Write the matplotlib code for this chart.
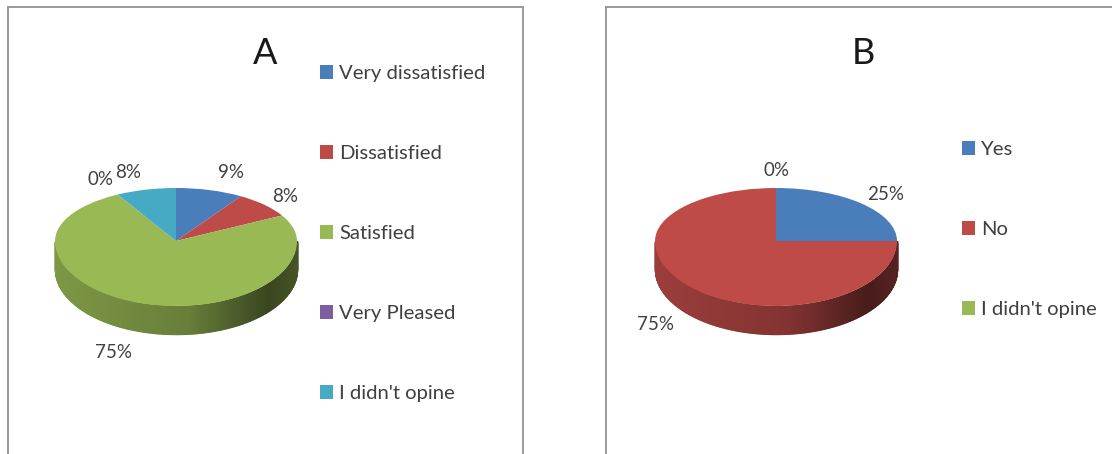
"""Two pseudo-3D satisfaction pies, drawn with ax.pie plus a shaded side wall."""
import matplotlib

matplotlib.use("Agg")
import matplotlib.pyplot as plt
import numpy as np
from matplotlib.patches import Patch

W, H = 1112, 454
plt.rcParams["font.family"] = ["Lato", "DejaVu Sans"]

labels_a = ["Very dissatisfied", "Dissatisfied", "Satisfied", "Very Pleased", "I didn't opine"]
values_a = [9, 8, 75, 0, 8]
colors_a = ["#4a7ebb", "#be4b48", "#98b954", "#7d5fa0", "#46aac5"]

labels_b = ["Yes", "No", "I didn't opine"]
values_b = [25, 75, 0]
colors_b = ["#4a7ebb", "#be4b48", "#98b954"]

# side wall brightness from left rim to right rim
SHADE_X = [-1, -0.5, 0.1, 0.75, 1]
SHADE_K = [0.82, 0.76, 0.68, 0.38, 0.46]
RX, RY, BACK, DEPTH = 121, 65, 53 / 65, 28  # pixels; the far half looks flatter


def side_wall(ax, values, colors):
    """Strips along the front rim, coloured after the slice they belong to."""
    edges = np.cumsum([0] + list(values)) / sum(values) * 2 * np.pi
    d = DEPTH / RY
    for a0, a1, color in zip(edges[:-1], edges[1:], colors):
        a0, a1 = max(a0, np.pi / 2), min(a1, 3 * np.pi / 2)
        if a1 <= a0:
            continue
        ts = np.linspace(a0, a1, int((a1 - a0) * 70) + 2)
        base = np.array(matplotlib.colors.to_rgb(color))
        for t0, t1 in zip(ts[:-1], ts[1:]):
            xs = np.sin([t0, t1])
            ys = np.cos([t0, t1])
            k = np.interp(xs.mean(), SHADE_X, SHADE_K)
            ax.fill_between(xs, ys, ys - d, color=base * k, lw=1.0, zorder=1)


def panel(box, cx, cy, values, colors, labels, title, title_xy, texts_xy, legend_xy, gap):
    left, top, width, height = box
    ax = fig.add_axes([left / W, 1 - (top + height) / H, width / W, height / H])
    wedges, _ = ax.pie(values, colors=colors, startangle=90, counterclock=False, radius=1)
    ax.set_aspect("auto")
    ax.set_xlim((left - cx) / RX, (left + width - cx) / RX)
    ax.set_ylim((cy - top - height) / RY, (cy - top) / RY)
    for w in wedges:
        w.set_zorder(2)
        v = w.get_path().vertices
        v[:, 1] = np.where(v[:, 1] > 0, v[:, 1] * BACK, v[:, 1])
    side_wall(ax, values, colors)

    ax.set_frame_on(True)
    for s in ax.spines.values():
        s.set_color("#9a9a9a")
        s.set_linewidth(1.4)

    for v, (x, y) in zip(values, texts_xy):
        fig.text(x / W, 1 - y / H, f"{v}%", ha="center", va="center", fontsize=13.5, color="#404040")
    fig.text(title_xy[0] / W, 1 - title_xy[1] / H, title, ha="center", va="center", fontsize=26, color="#1a1a1a")

    handles = [Patch(facecolor=c, edgecolor="none") for c in colors]
    fs = 14.6
    px = fs * 100 / 72
    fig.legend(handles, labels, loc="upper left", frameon=False, fontsize=fs,
               bbox_to_anchor=(legend_xy[0] / W, 1 - legend_xy[1] / H),
               borderpad=0, borderaxespad=0, handlelength=13 / px, handleheight=0.64,
               handletextpad=6 / px, labelspacing=(gap - px * 0.87) / px, labelcolor="#404040")


fig = plt.figure(figsize=(W / 100, H / 100), dpi=100, facecolor="white")

panel((8, 7, 515, 470), 176, 241, values_a, colors_a, labels_a, "A", (265, 54),
      [(231, 172), (285, 197), (114, 352), (100, 179), (128, 173)], (320, 65), 80.7)
panel((606, 7, 520, 470), 776, 241, values_b, colors_b, labels_b, "B", (863, 53),
      [(886, 195), (655, 325), (776, 171)], (962, 141), 80.7)

fig.savefig("out.png", dpi=100)
plt.close(fig)
